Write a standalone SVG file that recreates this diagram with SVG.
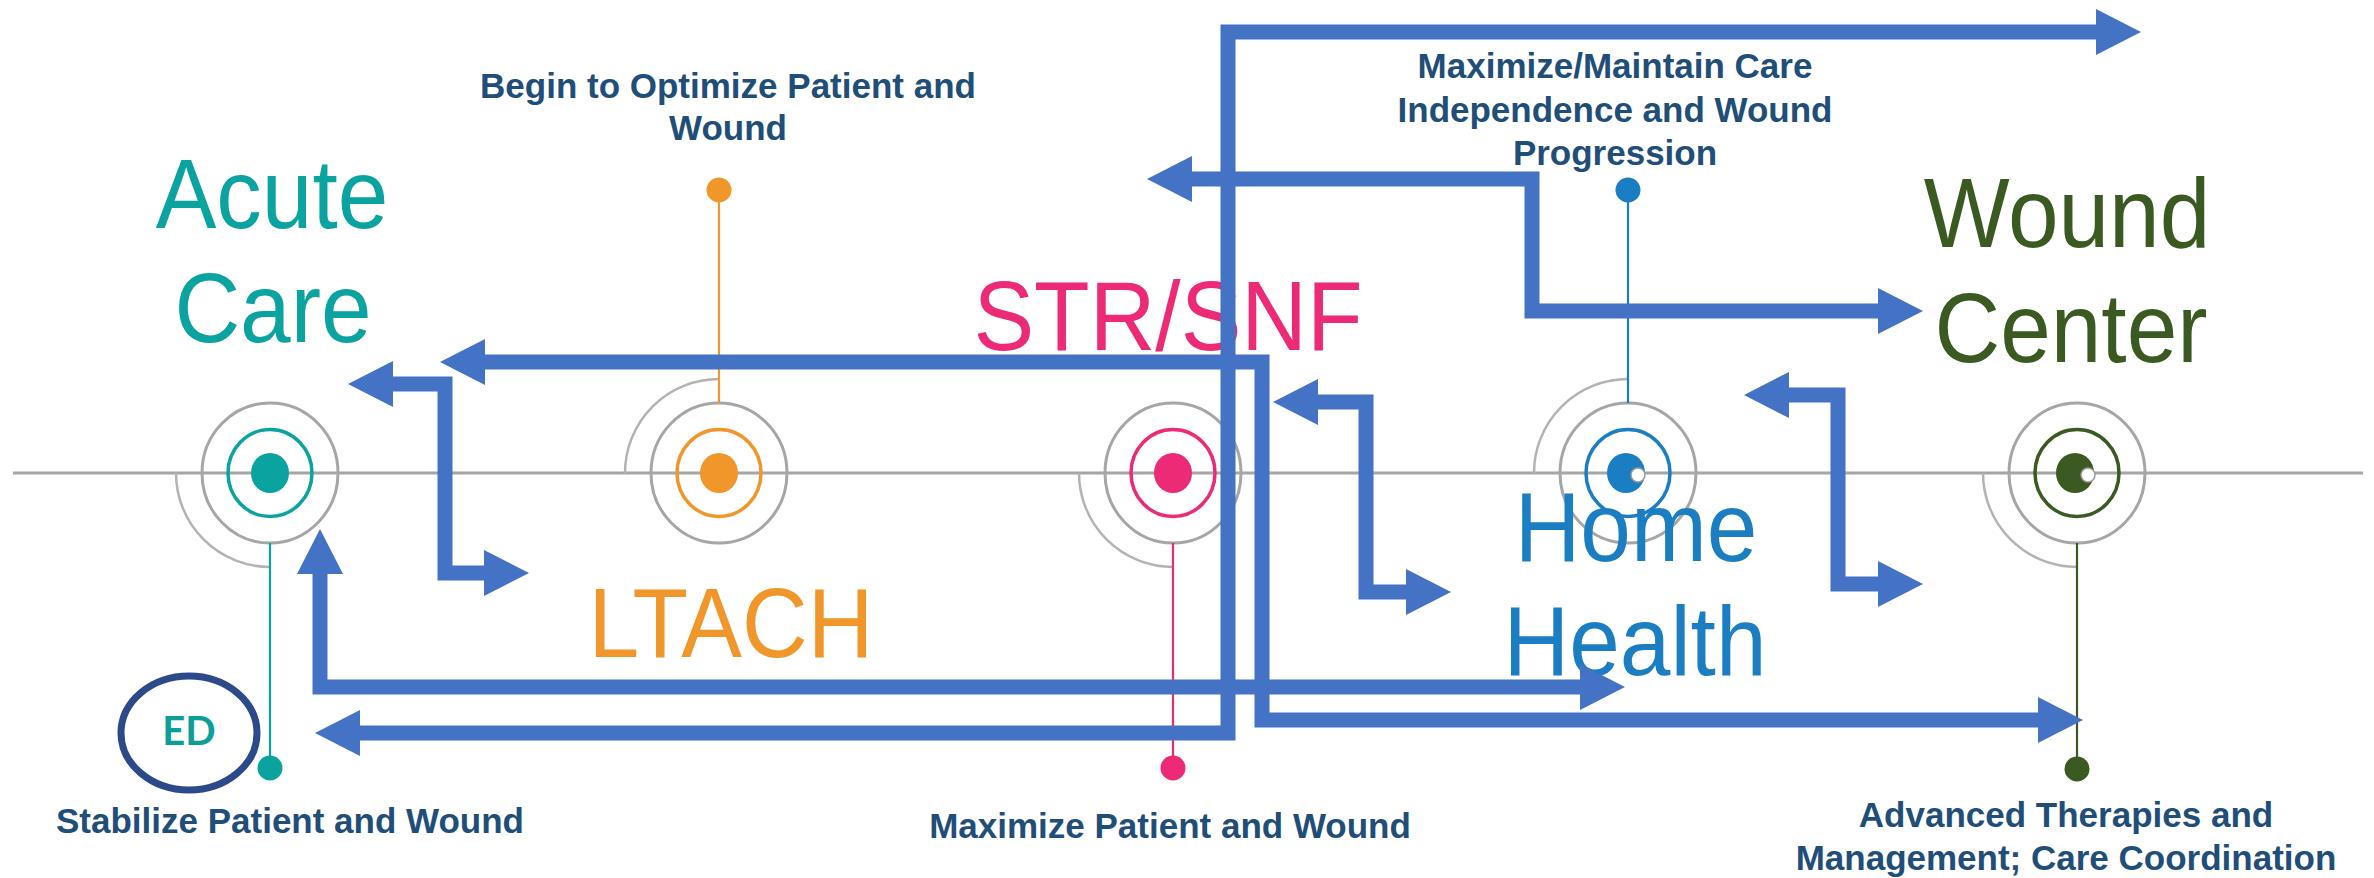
<svg xmlns="http://www.w3.org/2000/svg" width="2374" height="878" viewBox="0 0 2374 878">
<defs>
<style>
.ring{fill:none;stroke:#A6A6A6;stroke-width:3}
.arc{fill:none;stroke:#B3B3B3;stroke-width:2.5}
.big{font-family:"Liberation Sans",Arial,sans-serif;font-size:91px;text-anchor:middle}
.desc{font-family:"Liberation Sans",Arial,sans-serif;font-size:35px;font-weight:bold;fill:#1F4E79;text-anchor:middle}
.conn{fill:none;stroke:#4472C4;stroke-width:15;stroke-linejoin:miter;marker-end:url(#ah)}
.dbl{marker-start:url(#ah)}
.stem{stroke-width:2.2}
</style>
<marker id="ah" viewBox="0 0 45 46" refX="2" refY="23" markerWidth="45" markerHeight="46" markerUnits="userSpaceOnUse" orient="auto-start-reverse">
<path d="M0,0 L45,23 L0,46 Z" fill="#4472C4"/>
</marker>
</defs>
<rect width="2374" height="878" fill="#FFFFFF"/>
<line id="timeline" x1="13" y1="473" x2="2363" y2="473" stroke="#A6A6A6" stroke-width="3"/>

<g id="node-acute">
<path class="arc" d="M176,473 A94,94 0 0 0 270,567"/>
<ellipse class="ring" cx="270" cy="473" rx="68" ry="70"/>
<ellipse cx="270" cy="473" rx="42" ry="43.5" fill="none" stroke="#0BA3A0" stroke-width="3.5"/>
<ellipse cx="270" cy="473" rx="19" ry="20" fill="#0BA3A0"/>
<line class="stem" x1="270" y1="543" x2="270" y2="768" stroke="#0BA3A0"/>
<circle cx="270" cy="768" r="12.5" fill="#0BA3A0"/>
<text class="big" fill="#0BA3A0" transform="translate(272,228) scale(1,1.07)">Acute</text>
<text class="big" fill="#0BA3A0" transform="translate(273,342) scale(1,1.07)">Care</text>
<text class="desc" x="290" y="833">Stabilize Patient and Wound</text>
</g>

<g id="node-ed">
<ellipse cx="189" cy="733" rx="68" ry="57" fill="none" stroke="#2C4A8A" stroke-width="7"/>
<text x="189" y="745" font-family="Lato,'Liberation Sans',sans-serif" font-weight="bold" font-size="40" fill="#0E9E9A" text-anchor="middle">ED</text>
</g>

<g id="node-ltach">
<path class="arc" d="M625,473 A94,94 0 0 1 719,379"/>
<ellipse class="ring" cx="719" cy="473" rx="68" ry="70"/>
<ellipse cx="719" cy="473" rx="42" ry="43.5" fill="none" stroke="#F0962A" stroke-width="3.5"/>
<ellipse cx="719" cy="473" rx="19" ry="20" fill="#F0962A"/>
<line class="stem" x1="719" y1="190" x2="719" y2="403" stroke="#F0962A"/>
<circle cx="719" cy="190" r="12.5" fill="#F0962A"/>
<text class="big" fill="#F0962A" transform="translate(731,657) scale(1,1.07)">LTACH</text>
<text class="desc" x="728" y="98">Begin to Optimize Patient and</text>
<text class="desc" x="728" y="140">Wound</text>
</g>

<g id="node-str">
<path class="arc" d="M1079,473 A94,94 0 0 0 1173,567"/>
<ellipse class="ring" cx="1173" cy="473" rx="68" ry="70"/>
<ellipse cx="1173" cy="473" rx="42" ry="43.5" fill="none" stroke="#EC2A76" stroke-width="3.5"/>
<ellipse cx="1173" cy="473" rx="19" ry="20" fill="#EC2A76"/>
<line class="stem" x1="1173" y1="543" x2="1173" y2="768" stroke="#EC2A76"/>
<circle cx="1173" cy="768" r="12.5" fill="#EC2A76"/>
<text class="big" fill="#EC2A76" transform="translate(1168,350) scale(1,1.07)">STR/SNF</text>
<text class="desc" x="1170" y="838">Maximize Patient and Wound</text>
</g>

<g id="node-home">
<path class="arc" d="M1534,473 A94,94 0 0 1 1628,379"/>
<ellipse class="ring" cx="1628" cy="473" rx="68" ry="70"/>
<ellipse cx="1628" cy="473" rx="42" ry="43.5" fill="none" stroke="#1B7EC2" stroke-width="3.5"/>
<ellipse cx="1626" cy="473" rx="19" ry="20" fill="#1B7EC2"/>
<circle cx="1638" cy="475" r="7" fill="#FFFFFF" stroke="#9A9A9A" stroke-width="1.5"/>
<line class="stem" x1="1628" y1="190" x2="1628" y2="403" stroke="#1B7EC2"/>
<circle cx="1628" cy="190" r="12.5" fill="#1B7EC2"/>
<text class="big" fill="#1B7EC2" transform="translate(1636,561) scale(1,1.07)">Home</text>
<text class="big" fill="#1B7EC2" transform="translate(1635,675) scale(1,1.07)">Health</text>
<text class="desc" x="1615" y="78">Maximize/Maintain Care</text>
<text class="desc" x="1615" y="122">Independence and Wound</text>
<text class="desc" x="1615" y="165">Progression</text>
</g>

<g id="node-wound">
<path class="arc" d="M1983,473 A94,94 0 0 0 2077,567"/>
<ellipse class="ring" cx="2077" cy="473" rx="68" ry="70"/>
<ellipse cx="2077" cy="473" rx="42" ry="43.5" fill="none" stroke="#3A5A22" stroke-width="3.5"/>
<ellipse cx="2075" cy="473" rx="19" ry="20" fill="#3A5A22"/>
<circle cx="2088" cy="475" r="7" fill="#FFFFFF" stroke="#9A9A9A" stroke-width="1.5"/>
<line class="stem" x1="2077" y1="543" x2="2077" y2="769" stroke="#3A5A22"/>
<circle cx="2077" cy="769" r="12.5" fill="#3A5A22"/>
<text class="big" fill="#3A5A22" transform="translate(2067,247) scale(1,1.07)">Wound</text>
<text class="big" fill="#3A5A22" transform="translate(2071,362) scale(1,1.07)">Center</text>
<text class="desc" x="2066" y="827">Advanced Therapies and</text>
<text class="desc" x="2066" y="870">Management; Care Coordination</text>
</g>

<g id="connectors">
<path class="conn dbl" d="M358,733 H1228 V32 H2098"/>
<path class="conn dbl" d="M483,362 H1262 V720 H2040"/>
<path class="conn dbl" d="M320,572 V687 H1582"/>
<path class="conn dbl" d="M391,384 H445 V573 H486"/>
<path class="conn dbl" d="M1316,402 H1366 V592 H1408"/>
<path class="conn dbl" d="M1787,395 H1838 V584 H1880"/>
<path class="conn dbl" d="M1190,179 H1532 V311 H1880"/>
</g>
</svg>
